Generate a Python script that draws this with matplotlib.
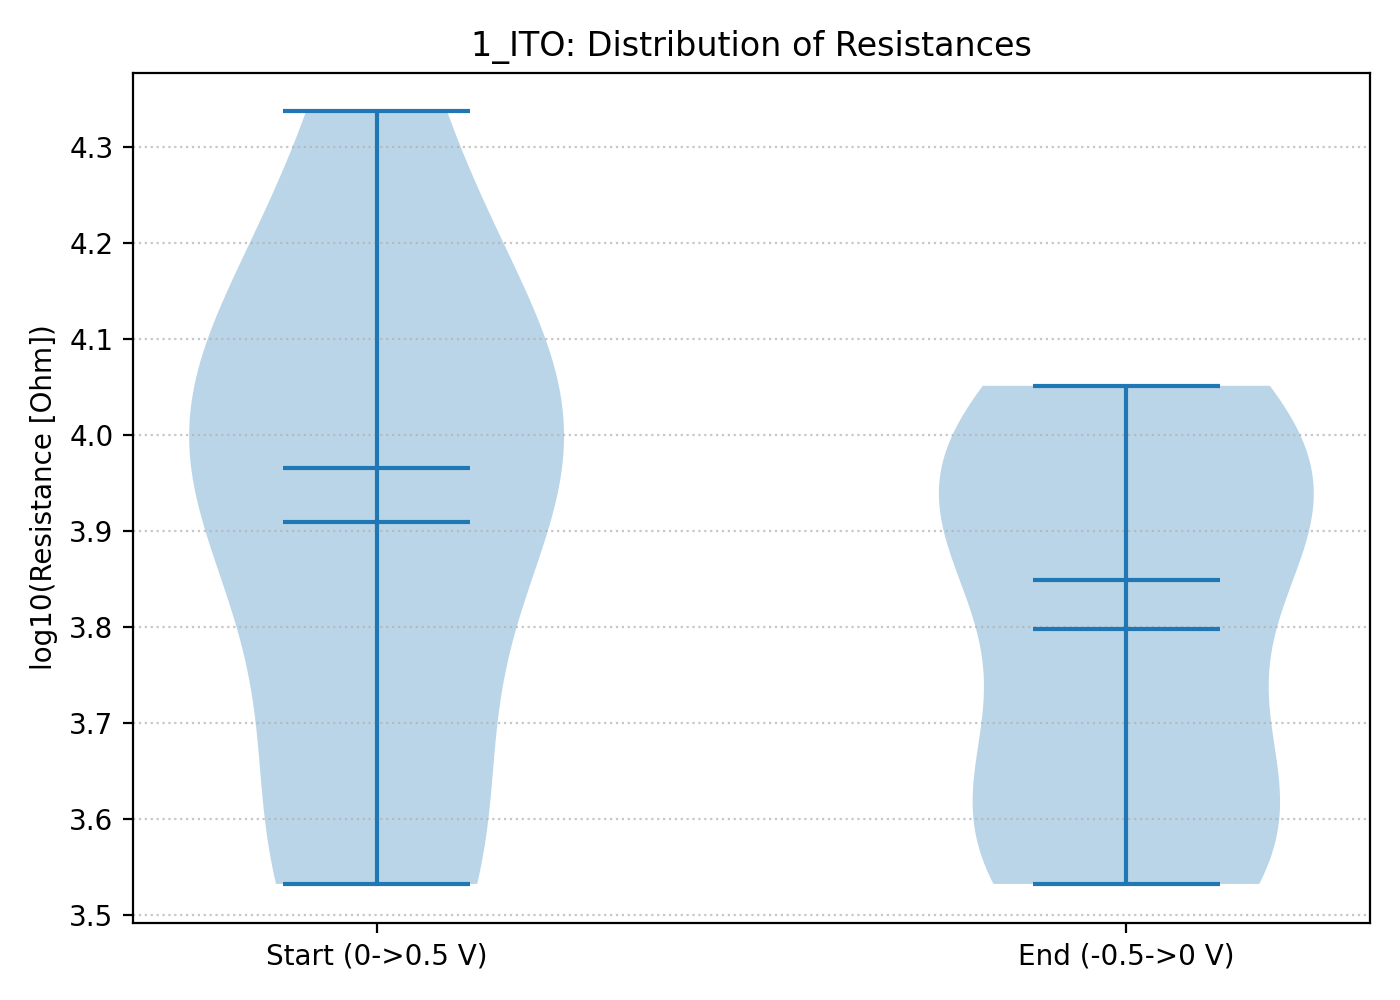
import numpy as np
import matplotlib
matplotlib.use("Agg")
from matplotlib import pyplot as plt

# log10 resistance samples per sweep segment (estimated from violin shape / mean / median)
start_vals = [3.532, 3.55, 3.64, 3.88, 3.95, 3.98, 4.02, 4.05, 4.15, 4.337]
end_vals = [3.532, 3.57, 3.60, 3.64, 3.798, 3.90, 3.93, 3.96, 4.00, 4.051]
labels = ["Start (0->0.5 V)", "End (-0.5->0 V)"]
sample_name = "1_ITO"

fig, ax = plt.subplots(figsize=(7, 5), dpi=200)
ax.violinplot([start_vals, end_vals], positions=[1, 2], showmeans=True, showmedians=True)
ax.set_xticks([1, 2])
ax.set_xticklabels(labels)
ax.set_ylabel("log10(Resistance [Ohm])")
ax.set_title(f"{sample_name}: Distribution of Resistances")
ax.grid(axis="y", linestyle=":", alpha=0.7)
fig.tight_layout()
fig.savefig("out.png")
